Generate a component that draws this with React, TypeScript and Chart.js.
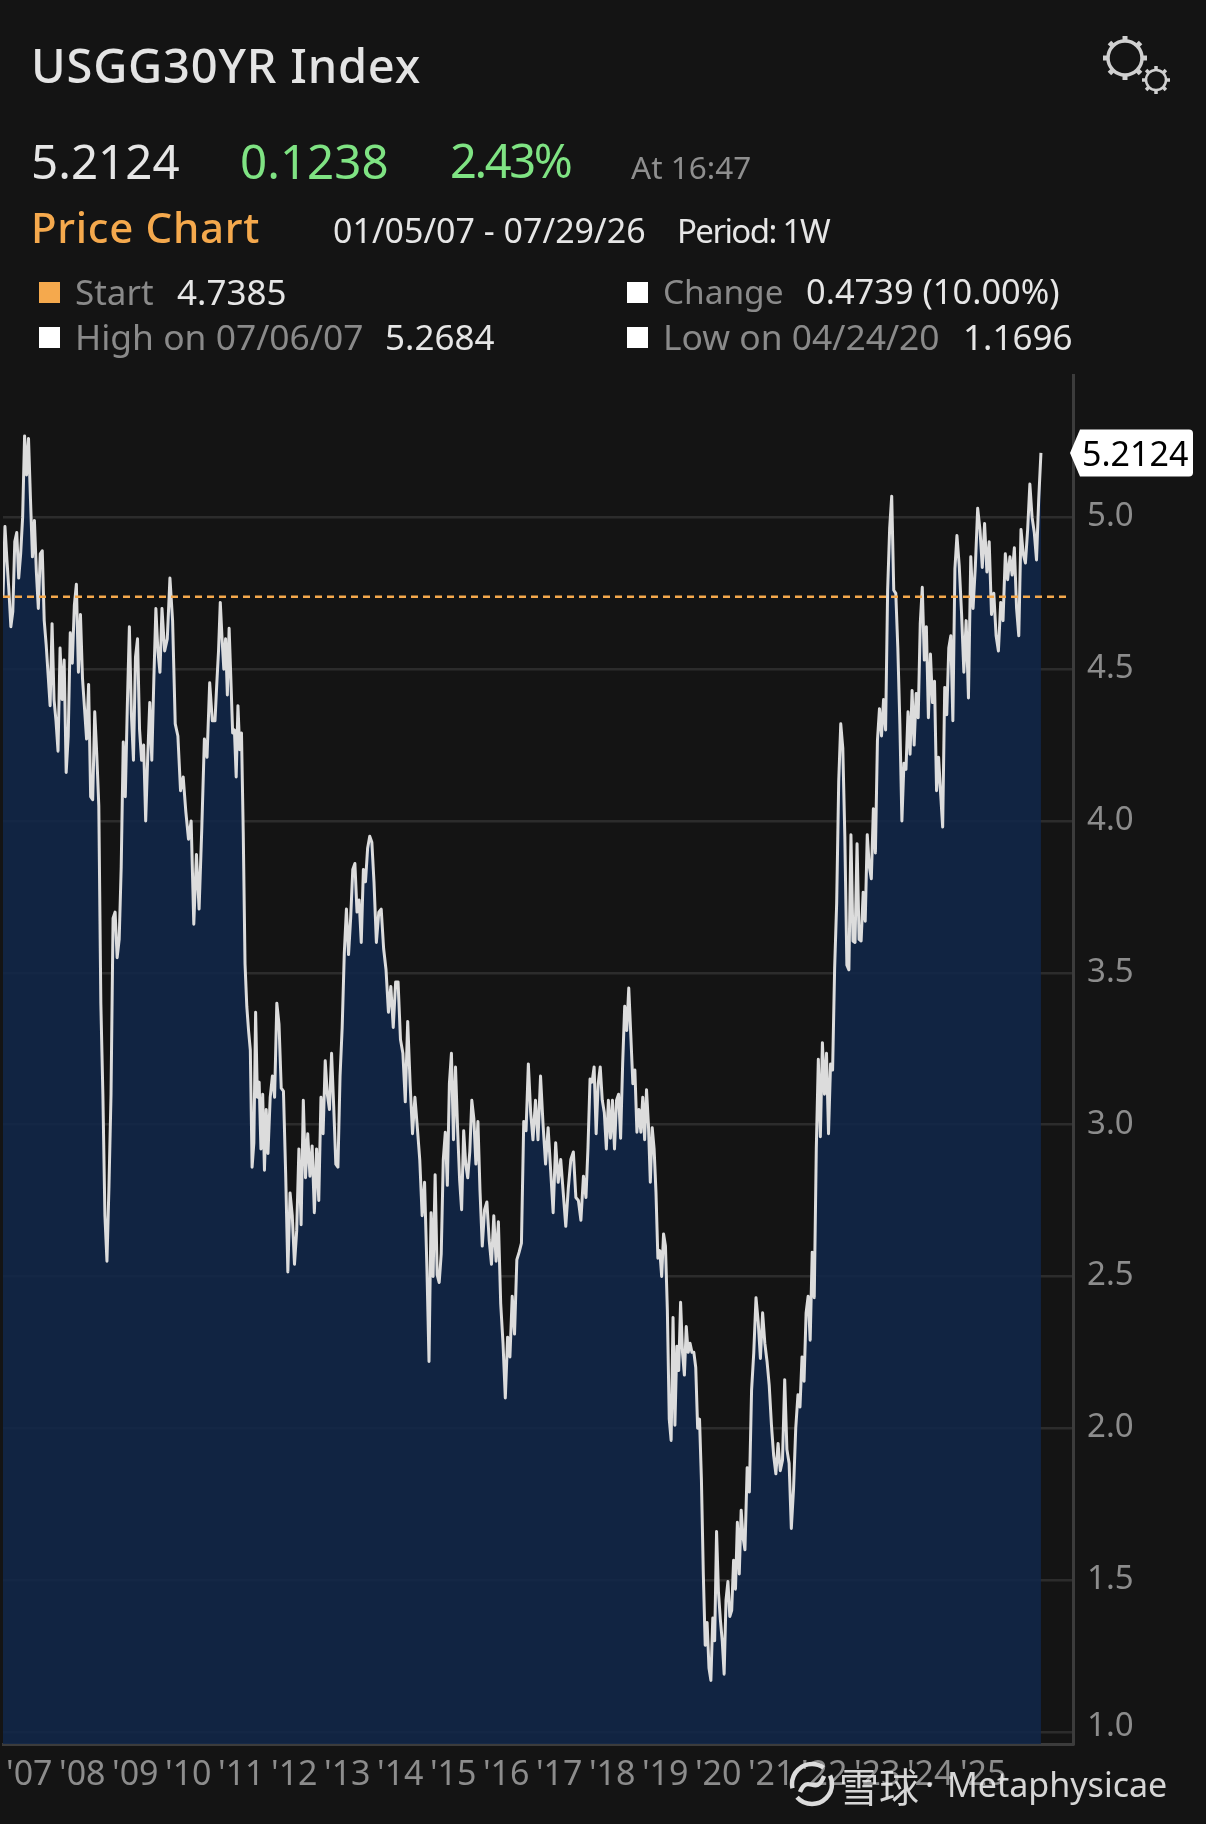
import React, { useEffect, useRef } from "react";
import { Chart, registerables } from "chart.js";

Chart.register(...registerables);

const y2007 = [4.74, 4.97, 4.86, 4.76, 4.64, 4.69, 4.92, 4.95, 4.80, 4.88, 5.0, 5.2684, 5.14, 5.26, 5.06, 4.87, 4.99, 4.82, 4.70, 4.88, 4.89, 4.66, 4.58, 4.48, 4.38, 4.65, 4.40];
const y2008 = [4.33, 4.23, 4.57, 4.40, 4.53, 4.16, 4.28, 4.62, 4.52, 4.71, 4.78, 4.49, 4.68, 4.47, 4.37, 4.27, 4.45, 4.08, 4.07, 4.36, 4.22, 4.05, 3.4, 3.1, 2.7, 2.55];
const y2009 = [2.8, 3.1, 3.68, 3.70, 3.55, 3.61, 3.85, 4.26, 4.08, 4.38, 4.64, 4.35, 4.20, 4.54, 4.60, 4.30, 4.20, 4.25, 4.00, 4.21, 4.39, 4.20, 4.465, 4.70, 4.56, 4.49];
const y2010 = [4.70, 4.56, 4.60, 4.80, 4.66, 4.32, 4.28, 4.10, 4.145, 4.03, 3.94, 4.0, 3.66, 3.89, 3.71, 3.97, 4.27, 4.21, 4.455, 4.33];
const y2011 = [4.33, 4.45, 4.56, 4.72, 4.60, 4.50, 4.60, 4.415, 4.635, 4.465, 4.29, 4.30, 4.145, 4.38, 4.235, 4.29, 3.96, 3.53, 3.39, 3.31, 3.245, 2.86, 2.94, 3.37, 3.09, 3.14, 2.92, 3.10, 2.85, 3.05];
const y2012 = [2.905, 3.09, 3.16, 3.09, 3.40, 3.33, 3.12, 3.11, 2.84, 2.515, 2.775, 2.70, 2.54, 2.65, 2.92, 2.67, 3.08, 2.825, 2.97, 2.83, 2.93, 2.71, 2.92, 2.75];
const y2013 = [3.09, 2.97, 3.21, 3.10, 3.05, 3.235, 3.06, 2.87, 2.86, 3.16, 3.32, 3.565, 3.71, 3.56, 3.68, 3.84, 3.86, 3.70, 3.74, 3.60, 3.84, 3.80, 3.91, 3.95, 3.93];
const y2014 = [3.80, 3.60, 3.70, 3.71, 3.58, 3.51, 3.37, 3.455, 3.32, 3.47, 3.47, 3.28, 3.235, 3.075, 3.34, 3.135, 2.97, 3.09, 2.99, 2.885, 2.70, 2.81];
const y2015 = [2.52, 2.22, 2.71, 2.50, 2.835, 2.505, 2.48, 2.575, 2.885, 2.975, 2.80, 3.135, 3.235, 2.95, 3.19, 2.99, 2.82, 2.72, 2.98, 2.87, 2.825, 2.91, 3.08, 3.02, 2.87, 3.01];
const y2016 = [2.785, 2.60, 2.72, 2.745, 2.62, 2.54, 2.70, 2.55, 2.68, 2.41, 2.28, 2.10, 2.30, 2.235, 2.435, 2.31, 2.555, 2.58, 2.61, 3.01, 2.98, 3.20, 3.04];
const y2017 = [2.95, 3.08, 2.95, 3.16, 3.0, 2.87, 2.99, 2.85, 2.71, 2.94, 2.81, 2.885, 2.775, 2.665, 2.79, 2.885, 2.91, 2.76, 2.75, 2.685, 2.83];
const y2018 = [2.76, 2.925, 3.15, 3.14, 3.19, 2.97, 3.135, 3.19, 3.08, 3.04, 2.92, 3.08, 2.955, 3.08, 2.92, 3.08, 3.10, 2.955, 3.20, 3.39, 3.31, 3.45, 3.295, 3.135, 3.18, 2.975];
const y2019 = [3.05, 2.975, 3.09, 2.95, 3.115, 3.0, 2.81, 2.99, 2.92, 2.775, 2.56, 2.585, 2.50, 2.64, 2.60, 2.39, 2.03, 1.96, 2.365, 2.01, 2.27, 2.19, 2.415, 2.25, 2.175, 2.335, 2.25, 2.28];
const y2020 = [2.25, 2.25, 2.20, 2.0, 2.03, 1.83, 1.52, 1.285, 1.36, 1.21, 1.1696, 1.375, 1.30, 1.66, 1.46, 1.37, 1.30, 1.19, 1.435, 1.495, 1.38, 1.40, 1.565, 1.47, 1.69, 1.52, 1.73, 1.64];
const y2021 = [1.60, 1.87, 1.79, 2.125, 2.25, 2.43, 2.35, 2.23, 2.38, 2.28, 2.22, 2.14, 2.01, 1.91, 1.85, 1.95, 1.86, 1.895, 2.16, 1.93, 1.885, 1.67, 1.80, 2.0];
const y2022 = [2.11, 2.07, 2.235, 2.155, 2.38, 2.435, 2.29, 2.58, 2.43, 2.92, 3.215, 2.96, 3.27, 3.10, 3.235, 2.97, 3.20, 3.18, 3.515, 3.73, 4.13, 4.32, 4.24, 3.95, 3.525, 3.51];
const y2023 = [3.955, 3.605, 3.60, 3.925, 3.61, 3.605, 3.765, 3.67, 3.955, 3.85, 3.81, 4.04, 3.895, 4.265, 4.37, 4.28, 4.40, 4.30, 4.76, 4.965, 5.07, 4.76, 4.75, 4.57, 4.32, 4.0];
const y2024 = [4.19, 4.17, 4.36, 4.22, 4.43, 4.25, 4.42, 4.34, 4.65, 4.77, 4.53, 4.64, 4.34, 4.55, 4.39, 4.46, 4.10, 4.21, 4.09, 3.98, 4.44, 4.35, 4.57, 4.61, 4.33, 4.83];
const y2025 = [4.94, 4.84, 4.685, 4.49, 4.66, 4.405, 4.87, 4.70, 4.84, 5.03, 4.96, 4.835, 4.98, 4.82, 4.92, 4.68, 4.75, 4.61, 4.56, 4.72, 4.66, 4.88, 4.795];
const y2026 = [4.87, 4.81, 4.90, 4.70, 4.61, 4.96, 4.88, 4.85, 4.96, 5.11, 5.0, 4.95, 4.86, 5.06, 5.2124];

const yearSeries = [y2007, y2008, y2009, y2010, y2011, y2012, y2013, y2014, y2015, y2016, y2017, y2018, y2019, y2020, y2021, y2022, y2023, y2024, y2025, y2026];
const firstYear = 2007;
const lastYearFraction = 0.585;
const axisEnd = 2027.19;
const startLevel = 4.7385;
const startLineEnd = 2027.08;
const lastPrice = 5.2124;
const tickYears = ["'07", "'08", "'09", "'10", "'11", "'12", "'13", "'14", "'15", "'16", "'17", "'18", "'19", "'20", "'21", "'22", "'23", "'24", "'25"];

const NOTO = '"Noto Sans", sans-serif';

const points: { x: number; y: number }[] = [];
yearSeries.forEach((vals, k) => {
  vals.forEach((v, i) => {
    const f = k === yearSeries.length - 1 ? (i / (vals.length - 1)) * lastYearFraction : i / vals.length;
    points.push({ x: firstYear + k + f, y: v });
  });
});

const priceTag = {
  id: "priceTag",
  beforeDraw(chart: any) {
    const items = chart.scales.y.getLabelItems();
    const bottom = items.find((it: any) => it.label === "1.0");
    if (bottom && !bottom._moved) {
      bottom.options.translation[1] -= 5;
      bottom._moved = true;
    }
  },
  afterDraw(chart: any) {
    const { ctx } = chart;
    const y = chart.scales.y.getPixelForValue(lastPrice);
    ctx.save();
    const l = 1080, r = 1193, t = y - 23.5, b = y + 23.5, rad = 4;
    ctx.fillStyle = "#ffffff";
    ctx.beginPath();
    ctx.moveTo(1070, y);
    ctx.lineTo(l, t);
    ctx.lineTo(r - rad, t);
    ctx.quadraticCurveTo(r, t, r, t + rad);
    ctx.lineTo(r, b - rad);
    ctx.quadraticCurveTo(r, b, r - rad, b);
    ctx.lineTo(l, b);
    ctx.closePath();
    ctx.fill();
    ctx.fillStyle = "#000000";
    ctx.font = `34px ${NOTO}`;
    ctx.textAlign = "left";
    ctx.textBaseline = "middle";
    ctx.fillText(lastPrice.toFixed(4), 1082, y + 3);
    ctx.restore();
  },
};

function T(props: { x: number; base: number; fs: number; c: string; w?: number; ls?: number; children: React.ReactNode }) {
  const { x, base, fs, c, w, ls, children } = props;
  return (
    <div
      style={{
        position: "absolute",
        left: x,
        top: base - 0.888 * fs,
        fontSize: fs,
        lineHeight: `${fs}px`,
        color: c,
        fontWeight: w ?? 400,
        letterSpacing: ls ?? 0,
        fontFamily: NOTO,
        whiteSpace: "pre",
      }}
    >
      {children}
    </div>
  );
}

function Square(props: { x: number; y: number; c: string }) {
  return <div style={{ position: "absolute", left: props.x, top: props.y, width: 21, height: 21, background: props.c }} />;
}

function Gear(props: { cx: number; cy: number; r: number }) {
  const { cx, cy, r } = props;
  const teeth = [0, 45, 90, 135, 180, 225, 270, 315];
  return (
    <g stroke="#d0d0d0" fill="none">
      <circle cx={cx} cy={cy} r={r} strokeWidth={r > 15 ? 3.5 : 2.5} />
      {teeth.map((a) => (
        <line
          key={a}
          x1={cx + r * Math.cos((a * Math.PI) / 180)}
          y1={cy + r * Math.sin((a * Math.PI) / 180)}
          x2={cx + (r + (r > 15 ? 5 : 4)) * Math.cos((a * Math.PI) / 180)}
          y2={cy + (r + (r > 15 ? 5 : 4)) * Math.sin((a * Math.PI) / 180)}
          strokeWidth={r > 15 ? 5 : 3.5}
        />
      ))}
    </g>
  );
}

export default function App() {
  const ref = useRef<HTMLCanvasElement>(null);
  useEffect(() => {
    document.body.style.margin = "0";
    document.body.style.background = "#141414";
    const chart = new Chart(ref.current as HTMLCanvasElement, {
      type: "line",
      data: {
        datasets: [
          {
            data: [
              { x: firstYear, y: startLevel },
              { x: startLineEnd, y: startLevel },
            ],
            borderColor: "#f5a94d",
            borderWidth: 2.5,
            borderDash: [7, 5],
            pointRadius: 0,
            fill: false,
          },
          {
            data: points,
            borderColor: "#dcdcdc",
            borderWidth: 3,
            borderJoinStyle: "round",
            pointRadius: 0,
            tension: 0,
            fill: "start",
            backgroundColor: "rgba(16,39,74,0.85)",
          },
        ],
      },
      options: {
        responsive: false,
        animation: false,
        devicePixelRatio: 1,
        parsing: false,
        normalized: true,
        layout: { padding: { left: 3, top: 375, right: 0, bottom: 0 } },
        plugins: { legend: { display: false }, tooltip: { enabled: false } },
        scales: {
          x: {
            type: "linear",
            min: firstYear,
            max: axisEnd,
            afterFit: (s: any) => {
              s.height = 80;
              s.paddingLeft = 0;
              s.paddingRight = 0;
            },
            grid: { display: false },
            border: { display: true, color: "#3c3c3c", width: 3 },
            ticks: {
              stepSize: 1,
              includeBounds: false,
              autoSkip: false,
              maxRotation: 0,
              minRotation: 0,
              align: "start",
              labelOffset: 3,
              padding: 3,
              color: "#8c8c8c",
              font: { family: NOTO, size: 34 },
              callback: (v: any) => tickYears[Number(v) - firstYear] ?? "",
            },
          },
          y: {
            type: "linear",
            position: "right",
            min: 0.96,
            max: 5.469,
            afterFit: (s: any) => {
              s.width = 133;
              s.paddingTop = 0;
              s.paddingBottom = 0;
            },
            grid: { color: "#2c2c2c", lineWidth: 2.5, drawTicks: false },
            border: { display: true, color: "#3c3c3c", width: 3 },
            ticks: {
              stepSize: 0.5,
              includeBounds: false,
              padding: 14,
              labelOffset: -0.5,
              color: "#8c8c8c",
              font: { family: NOTO, size: 33 },
              callback: (v: any) => Number(v).toFixed(1),
            },
          },
        },
      } as any,
      plugins: [priceTag],
    } as any);
    return () => chart.destroy();
  }, []);

  return (
    <div style={{ position: "absolute", left: 0, top: 0, width: 1206, height: 1824, background: "#141414", overflow: "hidden" }}>
      <canvas ref={ref} width={1206} height={1824} style={{ position: "absolute", left: 0, top: 0, display: "block" }} />
      <T x={31} base={84} fs={47} c="#e4e4e4" w={500} ls={0.8}>USGG30YR Index</T>
      <svg width={120} height={90} style={{ position: "absolute", left: 1090, top: 25 }}>
        <Gear cx={35} cy={33} r={17} />
        <Gear cx={66} cy={55} r={10} />
      </svg>
      <T x={31} base={179} fs={47.5} c="#e6e6e6">5.2124</T>
      <T x={240} base={179} fs={47.5} c="#7fe383">0.1238</T>
      <T x={450} base={179} fs={47} c="#7fe383" ls={-2.4}>2.43%</T>
      <T x={631} base={179} fs={31.5} c="#8f8f8f">At 16:47</T>
      <T x={31} base={243} fs={42} c="#f5a94d" w={500} ls={0.7}>Price Chart</T>
      <T x={333} base={243} fs={34} c="#e6e6e6">01/05/07 - 07/29/26</T>
      <T x={677} base={243} fs={33} c="#e6e6e6" ls={-1.6}>Period: 1W</T>

      <Square x={39} y={282} c="#f5a94d" />
      <T x={75} base={305} fs={35} c="#8a8a8a">Start</T>
      <T x={177} base={305} fs={35} c="#e6e6e6">4.7385</T>
      <Square x={39} y={327} c="#ffffff" />
      <T x={75} base={350} fs={35.4} c="#8a8a8a">High on 07/06/07</T>
      <T x={385} base={350} fs={35} c="#e6e6e6">5.2684</T>
      <Square x={627} y={282} c="#ffffff" />
      <T x={663} base={305} fs={33.4} c="#8a8a8a">Change</T>
      <T x={806} base={305} fs={34.4} c="#e6e6e6">0.4739 (10.00%)</T>
      <Square x={627} y={327} c="#ffffff" />
      <T x={663} base={350} fs={35.4} c="#8a8a8a">Low on 04/24/20</T>
      <T x={963} base={350} fs={35} c="#e6e6e6">1.1696</T>

      <svg width={48} height={50} style={{ position: "absolute", left: 788, top: 1759 }}>
        <circle cx={24} cy={25} r={20} stroke="#dcdcdc" strokeWidth={4.5} fill="none" strokeDasharray="48 10" />
        <path d="M12 33 C20 14, 28 38, 36 17" stroke="#dcdcdc" strokeWidth={4.5} fill="none" />
      </svg>
      <div
        style={{
          position: "absolute",
          left: 839,
          top: 1763,
          fontSize: 40,
          lineHeight: "44px",
          color: "rgba(235,235,235,0.9)",
          fontFamily: '"Noto Sans CJK SC", sans-serif',
          whiteSpace: "pre",
        }}
      >
        雪球
      </div>
      <T x={925} base={1797} fs={34} c="rgba(235,235,235,0.9)">·</T>
      <T x={947} base={1797} fs={34} c="rgba(235,235,235,0.9)">Metaphysicae</T>
    </div>
  );
}
